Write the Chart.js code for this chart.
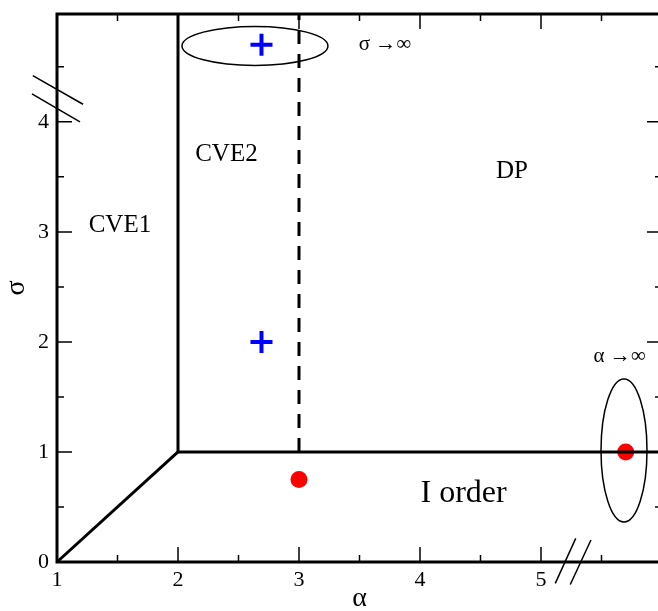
<!DOCTYPE html>
<html>
<head>
<meta charset="utf-8">
<script src="https://cdn.jsdelivr.net/npm/chart.js@4.4.0/dist/chart.umd.min.js"></script>
<style>
  html, body { margin: 0; padding: 0; overflow: hidden; background: #fff; }
  #chart { display: block; }
</style>
</head>
<body>
<canvas id="chart" width="662" height="611"></canvas>
<script>
// axes
const xRange = [1, 6];
const yRange = [0, 4.98];
const xMajor = [1, 2, 3, 4, 5, 6];
const xMinor = [1.5, 2.5, 3.5, 4.5, 5.5];
const yMajor = [0, 1, 2, 3, 4];
const yMinor = [0.5, 1.5, 2.5, 3.5, 4.5];
const xLabels = ['1', '2', '3', '4', '5'];
const yLabels = ['0', '1', '2', '3', '4'];

// phase boundaries [x, y]
const boundaryDiag = [[1, 0], [2, 1]];
const boundaryLow = [[2, 1], [6, 1]];
const boundaryLeft = [[2, 1], [2, 4.98]];
const boundaryDashed = [[3, 1], [3, 4.98]];

// markers
const plusX = [2.69, 2.69];
const plusY = [4.70, 2.0];
const dotX = [3.0, 5.70];
const dotY = [0.75, 1.0];

// axis break marks
const breakY1 = [[0.80, 4.42], [1.215, 4.16]];
const breakY2 = [[0.793, 4.255], [1.19, 4.0]];
const breakX1 = [[5.287, 0.215], [5.118, -0.194]];
const breakX2 = [[5.413, 0.20], [5.242, -0.205]];

// ellipses round the limit points
const ellCx = [2.636, 5.686];
const ellCy = [4.69, 1.014];
const ellRx = [0.603, 0.19];
const ellRy = [0.177, 0.65];

// region names
const regionText = ['CVE1', 'CVE2', 'DP', 'I order', 'σ →∞', 'α →∞'];
const regionX = [1.52, 2.40, 4.76, 4.36, 3.71, 5.65];
const regionY = [3.06, 3.70, 3.55, 0.62, 4.70, 1.87];
const regionSize = [25, 25, 25, 32, 21, 21];

const serif = "'Liberation Serif', 'Times New Roman', serif";
const toPts = (pairs) => pairs.map(p => ({ x: p[0], y: p[1] }));

function lineSet(pairs, width, dash) {
  return {
    data: toPts(pairs),
    showLine: true,
    borderColor: '#000',
    borderWidth: width,
    borderDash: dash || [],
    pointRadius: 0,
    fill: false,
    clip: false
  };
}

const decor = {
  id: 'decor',
  beforeDatasetsDraw(chart) {
    const { ctx, scales: { x, y } } = chart;
    ctx.save();
    ctx.strokeStyle = '#000';
    ctx.lineWidth = 1.5;
    for (let i = 0; i < ellCx.length; i++) {
      const cx = x.getPixelForValue(ellCx[i]);
      const cy = y.getPixelForValue(ellCy[i]);
      const rx = Math.abs(x.getPixelForValue(ellCx[i] + ellRx[i]) - cx);
      const ry = Math.abs(y.getPixelForValue(ellCy[i] + ellRy[i]) - cy);
      ctx.beginPath();
      ctx.ellipse(cx, cy, rx, ry, 0, 0, Math.PI * 2);
      ctx.stroke();
    }
    ctx.restore();
  },
  afterDraw(chart) {
    const { ctx, chartArea: a, scales: { x, y } } = chart;
    ctx.save();
    ctx.strokeStyle = '#000';
    // ticks point inward on all four sides
    ctx.lineWidth = 1.5;
    ctx.beginPath();
    xMajor.concat(xMinor).forEach(v => {
      const len = xMajor.includes(v) ? 15 : 7;
      const px = x.getPixelForValue(v);
      ctx.moveTo(px, a.bottom); ctx.lineTo(px, a.bottom - len);
      ctx.moveTo(px, a.top); ctx.lineTo(px, a.top + len);
    });
    yMajor.concat(yMinor).forEach(v => {
      const len = yMajor.includes(v) ? 15 : 7;
      const py = y.getPixelForValue(v);
      ctx.moveTo(a.left, py); ctx.lineTo(a.left + len, py);
      ctx.moveTo(a.right, py); ctx.lineTo(a.right - len, py);
    });
    ctx.stroke();
    // frame
    ctx.lineWidth = 3;
    ctx.strokeRect(a.left, a.top, a.right - a.left, a.bottom - a.top);
    // region names
    ctx.fillStyle = '#000';
    ctx.textAlign = 'center';
    ctx.textBaseline = 'middle';
    regionText.forEach((t, i) => {
      ctx.font = regionSize[i] + 'px ' + serif;
      ctx.fillText(t, x.getPixelForValue(regionX[i]), y.getPixelForValue(regionY[i]));
    });
    ctx.restore();
  }
};

const allTicks = (major, minor) => major.concat(minor).sort((a, b) => a - b).map(v => ({ value: v }));

new Chart(document.getElementById('chart'), {
  type: 'scatter',
  data: {
    datasets: [
      lineSet(boundaryDiag, 3),
      lineSet(boundaryLow, 3),
      lineSet(boundaryLeft, 3),
      lineSet(boundaryDashed, 3, [14, 10]),
      lineSet(breakY1, 1.5),
      lineSet(breakY2, 1.5),
      lineSet(breakX1, 1.5),
      lineSet(breakX2, 1.5),
      {
        data: plusX.map((v, i) => ({ x: v, y: plusY[i] })),
        pointStyle: 'cross',
        pointRadius: 11,
        borderWidth: 4,
        borderColor: '#0000ff',
        backgroundColor: '#0000ff'
      },
      {
        data: dotX.map((v, i) => ({ x: v, y: dotY[i] })),
        pointStyle: 'circle',
        pointRadius: 8.5,
        borderWidth: 0,
        backgroundColor: '#ff0000',
        clip: false
      }
    ]
  },
  options: {
    responsive: false,
    animation: false,
    events: [],
    layout: { autoPadding: false, padding: { top: 14, right: 0, left: 0, bottom: 0 } },
    plugins: { legend: { display: false }, tooltip: { enabled: false } },
    scales: {
      x: {
        type: 'linear',
        min: xRange[0],
        max: xRange[1],
        grid: { display: false, drawTicks: false },
        border: { display: false },
        afterBuildTicks: (s) => { s.ticks = allTicks(xMajor, xMinor); },
        afterFit: (s) => { s.height = 49; s.paddingLeft = 0; s.paddingRight = 0; },
        ticks: {
          autoSkip: false,
          maxRotation: 0,
          padding: 5,
          color: '#000',
          font: { family: serif, size: 22 },
          callback: (v) => xLabels.includes(String(v)) ? String(v) : ''
        },
        title: {
          display: true,
          text: 'α',
          color: '#000',
          padding: { top: 0, bottom: 0 },
          font: { family: serif, size: 28, lineHeight: 0.9 }
        }
      },
      y: {
        type: 'linear',
        min: yRange[0],
        max: yRange[1],
        grid: { display: false, drawTicks: false },
        border: { display: false },
        afterBuildTicks: (s) => { s.ticks = allTicks(yMajor, yMinor); },
        afterFit: (s) => { s.width = 57; s.paddingTop = 0; s.paddingBottom = 0; },
        ticks: {
          autoSkip: false,
          padding: 8,
          color: '#000',
          font: { family: serif, size: 22 },
          callback: (v) => yLabels.includes(String(v)) ? String(v) : ''
        },
        title: {
          display: true,
          text: 'σ',
          color: '#000',
          padding: { top: 0, bottom: 0 },
          font: { family: serif, size: 28, lineHeight: 1.2 }
        }
      }
    }
  },
  plugins: [decor]
});
</script>
</body>
</html>
